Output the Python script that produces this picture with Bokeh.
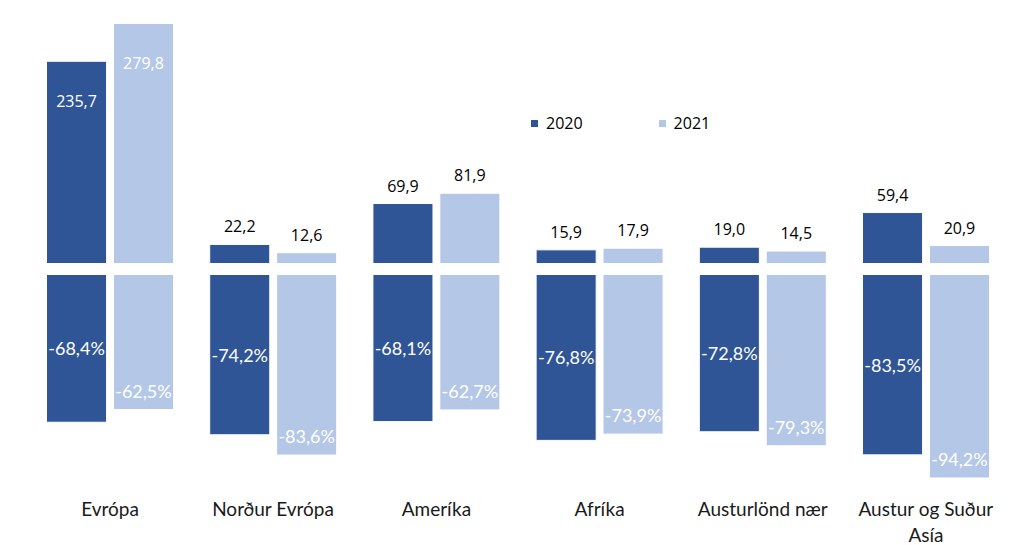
from bokeh.plotting import figure
from bokeh.models import Range1d, Legend, LegendItem
from bokeh.core.properties import value
from bokeh.embed import file_html
from bokeh.resources import INLINE

categories = ["Evrópa", "Norður Evrópa", "Ameríka", "Afríka", "Austurlönd nær", "Austur og Suður\nAsía"]
series = ["2020", "2021"]
v2020 = [235.7, 22.2, 69.9, 15.9, 19.0, 59.4]
v2021 = [279.8, 12.6, 81.9, 17.9, 14.5, 20.9]
p2020 = [-68.4, -74.2, -68.1, -76.8, -72.8, -83.5]
p2021 = [-62.5, -83.6, -62.7, -73.9, -79.3, -94.2]

DARK = "#2F5597"
LIGHT = "#B4C7E7"

W, H = 1024, 545
CAT_PX = 163.2
X0_PX = 109.5
TOP_BASE_PX, TOP_SCALE = 263.0, 0.858
PCT_BASE_PX, PCT_SCALE = 274.0, 2.16
BW = 0.368
OFF = 0.205

x_start = -X0_PX / CAT_PX
p = figure(width=W, height=H, output_backend="svg", toolbar_location=None,
           x_range=Range1d(x_start, x_start + W / CAT_PX),
           y_range=Range1d(-(H - TOP_BASE_PX) / TOP_SCALE, TOP_BASE_PX / TOP_SCALE),
           min_border=0, outline_line_color=None)
p.extra_y_ranges = {"pct": Range1d(-(H - PCT_BASE_PX) / PCT_SCALE, PCT_BASE_PX / PCT_SCALE)}
p.xaxis.visible = False
p.yaxis.visible = False
p.xgrid.visible = False
p.ygrid.visible = False
p.background_fill_color = "white"
p.border_fill_color = "white"

idx = list(range(len(categories)))
fmt = lambda v: f"{v:.1f}".replace(".", ",")

renderers = []
for vals, pcts, off, col in [(v2020, p2020, -OFF, DARK), (v2021, p2021, OFF, LIGHT)]:
    xs = [i + off for i in idx]
    r = p.vbar(x=xs, top=vals, bottom=0, width=BW, fill_color=col, line_color="white", line_width=1)
    renderers.append(r)
    p.vbar(x=xs, top=0, bottom=pcts, width=BW, fill_color=col, line_color="white", line_width=1,
           y_range_name="pct")

    # value labels on top
    ty, tc = [], []
    for v in vals:
        if v > 100:
            ty.append(v - 40 / TOP_SCALE)
            tc.append("white")
        else:
            ty.append(v + 18 / TOP_SCALE)
            tc.append("black")
    p.text(x=xs, y=ty, text=[fmt(v) for v in vals], text_color=tc,
           text_font=value("Open Sans"), text_font_size="16px",
           text_align="center", text_baseline="middle")

    # percentage labels
    if off < 0:
        py = [v / 2 for v in pcts]
    else:
        py = [v + 19 / PCT_SCALE for v in pcts]
    p.text(x=xs, y=py, text=[fmt(v) + "%" for v in pcts], text_color="white",
           text_font=value("Lato"), text_font_size="18px",
           text_align="center", text_baseline="middle", y_range_name="pct")

# category labels
cat_y = -(508 - 12 - PCT_BASE_PX) / PCT_SCALE
p.text(x=idx, y=[cat_y] * len(idx), text=categories, text_color="#1a1a1a",
       text_font=value("Lato"), text_font_size="19px", text_align="center",
       text_baseline="top", text_line_height=1.15, y_range_name="pct")

legend = Legend(items=[LegendItem(label=s, renderers=[r]) for s, r in zip(series, renderers)],
                location=(529, 411), orientation="horizontal", padding=0, margin=0,
                spacing=74, glyph_width=10, glyph_height=10, label_standoff=7,
                label_text_font="Open Sans", label_text_font_size="16px",
                label_text_color="black", background_fill_alpha=0, border_line_color=None)
p.add_layout(legend)

open("out.html", "w").write(file_html(p, INLINE))
